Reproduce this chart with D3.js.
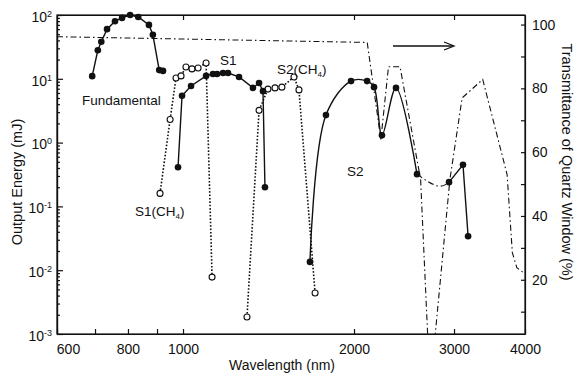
<!DOCTYPE html>
<html>
<head>
<meta charset="utf-8">
<script src="https://cdn.jsdelivr.net/npm/d3@7"></script>
<style>
  body { margin: 0; background: #fff; }
  text { font-family: "Liberation Sans", Arial, sans-serif; fill: #111; }
  .axis .domain, .axis line { stroke: #111; stroke-width: 1.2; }
  .axis text { font-size: 14px; }
</style>
</head>
<body>
<div id="chart"></div>
<script>
// wavelength (nm), output energy (mJ)
const fundamental = [[692, 11], [708, 28], [718, 38], [735, 60], [759, 80], [781, 90], [807, 100],
  [834, 93], [871, 70], [885, 49], [908, 13.7], [922, 13.3]];
const s1 = [[980, 0.41], [996, 5.4], [1033, 7.7], [1098, 11.1], [1129, 11.9], [1148, 11.9], [1176, 12.3],
  [1200, 12.3], [1255, 10.7], [1328, 7.2], [1361, 8.6], [1383, 6.4], [1394, 0.2]];
const s2 = [[1673, 0.0135], [1785, 2.7], [1976, 9.2], [2109, 9.2], [2169, 7.4], [2240, 1.3],
  [2371, 7.2], [2582, 0.32]];
const s2Gap = [[2582, 0.32], [2800, 0.21], [2940, 0.24]];
const s2Tail = [[2940, 0.24], [3111, 0.45], [3176, 0.034]];
const s1CH4 = [[911, 0.16], [949, 2.3], [972, 10.3], [992, 11.1], [1012, 15.3], [1037, 14.3],
  [1063, 14.8], [1098, 17.7], [1125, 0.0078]];
const s2CH4 = [[1296, 0.00185], [1361, 3.2], [1411, 6.9], [1452, 7.2], [1493, 7.4], [1568, 10.7],
  [1600, 6.7], [1708, 0.0044]];

// wavelength (nm), transmittance of quartz window (%)
const transmittance = [[600, 96.2], [2110, 94.4], [2230, 64], [2300, 86.8], [2410, 86.8], [2620, 51.4],
  [2700, 0], [2770, 0], [2950, 51.4], [3100, 77], [3370, 82.8], [3720, 53], [3800, 28.5],
  [3870, 23.8], [3970, 22.3]];

const xTicks = [600, 700, 800, 900, 1000, 2000, 3000, 4000];
const xLabels = [600, 800, 1000, 2000, 3000, 4000];
const topTicks = [1000, 2000, 3000];
const yTicks = [1e-3, 1e-2, 1e-1, 1e0, 1e1, 1e2];
const yExponents = ['-3', '-2', '-1', '0', '1', '2'];
const rTicks = [10, 20, 30, 40, 50, 60, 70, 80, 90, 100];
const rLabels = [20, 40, 60, 80, 100];

const width = 576, height = 374;
const margin = {top: 15, right: 51, bottom: 40, left: 57};

const svg = d3.select('#chart').append('svg')
  .attr('width', width)
  .attr('height', height);

svg.append('rect').attr('width', width).attr('height', height).attr('fill', '#fff');

const x = d3.scaleLog().domain([600, 4000]).range([margin.left, width - margin.right]);
const y = d3.scaleLog().domain([1e-3, 1e2]).range([height - margin.bottom, margin.top]);
const yT = d3.scaleLinear().domain([3, 103]).range([height - margin.bottom, margin.top]);

svg.append('clipPath').attr('id', 'plot')
  .append('rect')
  .attr('x', margin.left).attr('y', margin.top)
  .attr('width', width - margin.left - margin.right)
  .attr('height', height - margin.top - margin.bottom);

// axes
svg.append('g').attr('class', 'axis')
  .attr('transform', `translate(0,${height - margin.bottom})`)
  .call(d3.axisBottom(x).tickValues(xTicks).tickSize(-5).tickSizeOuter(0).tickPadding(10)
    .tickFormat(d => xLabels.includes(d) ? d : ''))
  .selectAll('text').attr('dx', d => d === 600 ? 11 : 0);

svg.append('g').attr('class', 'axis')
  .attr('transform', `translate(0,${margin.top})`)
  .call(d3.axisTop(x).tickValues(topTicks).tickSize(-5).tickSizeOuter(0).tickFormat(''));

const minors = [];
for (let k = -3; k < 2; k++) {
  for (let m = 2; m < 10; m++) minors.push(m * Math.pow(10, k));
}

svg.append('g').attr('class', 'axis')
  .attr('transform', `translate(${margin.left},0)`)
  .call(d3.axisLeft(y).tickValues(minors).tickSize(-3).tickSizeOuter(0).tickFormat(''));

const left = svg.append('g').attr('class', 'axis')
  .attr('transform', `translate(${margin.left},0)`)
  .call(d3.axisLeft(y).tickValues(yTicks).tickSize(-6).tickSizeOuter(0).tickPadding(5));

left.selectAll('.tick text')
  .text('')
  .attr('dy', '0.45em')
  .each(function(d, i) {
    const t = d3.select(this);
    t.append('tspan').text('10');
    t.append('tspan').attr('dy', '-0.55em').style('font-size', '9px').text(yExponents[i]);
  });

svg.append('g').attr('class', 'axis')
  .attr('transform', `translate(${width - margin.right},0)`)
  .call(d3.axisRight(yT).tickValues(rTicks).tickSize(-4).tickSizeOuter(0).tickPadding(7)
    .tickFormat(d => rLabels.includes(d) ? d : ''));

// frame
svg.append('rect')
  .attr('x', margin.left).attr('y', margin.top)
  .attr('width', width - margin.left - margin.right)
  .attr('height', height - margin.top - margin.bottom)
  .attr('fill', 'none').attr('stroke', '#111').attr('stroke-width', 1.2);

// curves
const line = d3.line().x(d => x(d[0])).y(d => y(d[1]));
const smooth = d3.line().x(d => x(d[0])).y(d => y(d[1])).curve(d3.curveCatmullRom.alpha(0.5));
const lineT = d3.line().x(d => x(d[0])).y(d => yT(d[1]));

svg.append('path')
  .datum(transmittance)
  .attr('clip-path', 'url(#plot)')
  .attr('d', lineT)
  .attr('fill', 'none')
  .attr('stroke', '#111')
  .attr('stroke-width', 1.1)
  .attr('stroke-dasharray', '6,3,1.5,3');

const dotted = [s1CH4, s2CH4];
dotted.forEach(series => {
  svg.append('path')
    .datum(series)
    .attr('d', line)
    .attr('fill', 'none')
    .attr('stroke', '#111')
    .attr('stroke-width', 1.6)
    .attr('stroke-dasharray', '1.6,1.8');

  svg.selectAll(null)
    .data(series)
    .enter().append('circle')
    .attr('cx', d => x(d[0]))
    .attr('cy', d => y(d[1]))
    .attr('r', 3)
    .attr('fill', '#fff')
    .attr('stroke', '#111')
    .attr('stroke-width', 1.1);
});

svg.append('path')
  .datum(s2Gap)
  .attr('d', d3.line().x(d => x(d[0])).y(d => y(d[1])).curve(d3.curveNatural))
  .attr('fill', 'none')
  .attr('stroke', '#111')
  .attr('stroke-width', 1.1)
  .attr('stroke-dasharray', '6,3,1.5,3');

const solid = [[fundamental, line], [s1, line], [s2, smooth], [s2Tail, line]];
solid.forEach(([series, gen]) => {
  svg.append('path')
    .datum(series)
    .attr('d', gen)
    .attr('fill', 'none')
    .attr('stroke', '#111')
    .attr('stroke-width', 1.4);

  svg.selectAll(null)
    .data(series)
    .enter().append('circle')
    .attr('cx', d => x(d[0]))
    .attr('cy', d => y(d[1]))
    .attr('r', 3.3)
    .attr('fill', '#111');
});

// arrow pointing to the right axis
svg.append('line')
  .attr('x1', 393).attr('y1', 46).attr('x2', 453).attr('y2', 46)
  .attr('stroke', '#111').attr('stroke-width', 1.3);
svg.append('path')
  .attr('d', 'M444,42 L454,46 L444,50')
  .attr('fill', 'none').attr('stroke', '#111').attr('stroke-width', 1.3);

// labels
const labels = svg.append('g').style('font-size', '13.5px');
labels.append('text').attr('x', 82).attr('y', 105).text('Fundamental');
labels.append('text').attr('x', 220).attr('y', 65).text('S1');
labels.append('text').attr('x', 347).attr('y', 176).text('S2');

function chLabel(px, py, name) {
  const t = labels.append('text').attr('x', px).attr('y', py);
  t.append('tspan').text(name + '(CH');
  t.append('tspan').attr('dy', 3).style('font-size', '8px').text('4');
  t.append('tspan').attr('dy', -3).text(')');
}
chLabel(135, 216, 'S1');
chLabel(277, 74, 'S2');

svg.append('text')
  .attr('x', 282).attr('y', 370)
  .attr('text-anchor', 'middle')
  .style('font-size', '14px')
  .text('Wavelength (nm)');

svg.append('text')
  .attr('transform', 'translate(22,182) rotate(-90)')
  .attr('text-anchor', 'middle')
  .style('font-size', '14.5px')
  .text('Output Energy (mJ)');

svg.append('text')
  .attr('transform', 'translate(562,162) rotate(90)')
  .attr('text-anchor', 'middle')
  .style('font-size', '14.5px')
  .text('Transmittance of Quartz Window (%)');
</script>
</body>
</html>
